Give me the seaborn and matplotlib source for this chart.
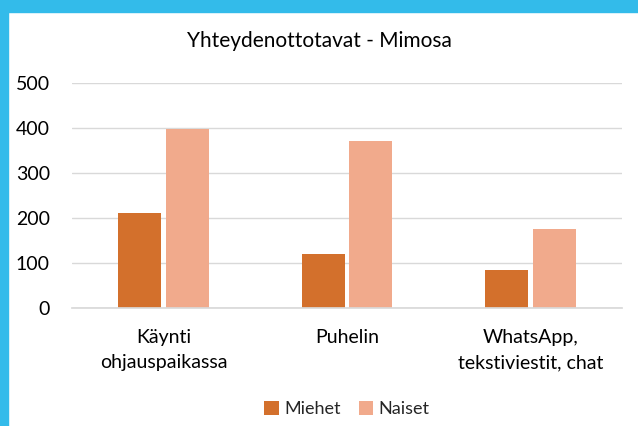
import matplotlib
matplotlib.use("Agg")
import matplotlib.pyplot as plt
import seaborn as sns
import pandas as pd
from matplotlib.patches import Rectangle

# ---------------------------------------------------------------------------
# Data
# ---------------------------------------------------------------------------
categories = ["Käynti\nohjauspaikassa", "Puhelin", "WhatsApp,\ntekstiviestit, chat"]
miehet = [211, 121, 84]
naiset = [398, 371, 176]
series = ["Miehet", "Naiset"]
colors = ["#D3702C", "#F1AA8C"]
yticks = [0, 100, 200, 300, 400, 500]

df = pd.DataFrame({
    "kategoria": categories * 2,
    "arvo": miehet + naiset,
    "sukupuoli": [series[0]] * 3 + [series[1]] * 3,
})

sns.set_theme(style="white")
plt.rcParams["font.family"] = ["Lato", "DejaVu Sans"]

fig = plt.figure(figsize=(6.38, 4.26), dpi=100)
ax = fig.add_axes([72 / 638, 1 - 308 / 426, 550 / 638, 225 / 426])

sns.barplot(data=df, x="kategoria", y="arvo", hue="sukupuoli",
            palette=colors, width=0.52, gap=0.1, saturation=1,
            linewidth=0, ax=ax, legend=True)

ax.set_ylim(0, 500)
ax.set_xlim(-0.5, 2.5)
ax.set_yticks(yticks)
ax.yaxis.grid(True, color="#D9D9D9", lw=1)
ax.set_axisbelow(True)
for s in ax.spines.values():
    s.set_visible(False)
ax.spines["bottom"].set_visible(True)
ax.spines["bottom"].set_color("#D9D9D9")
ax.set_xlabel("")
ax.set_ylabel("")
ax.tick_params(axis="y", labelsize=14, colors="#000000", pad=16, length=0)
ax.tick_params(axis="x", labelsize=14, colors="#000000", pad=15, length=0)
for lbl in ax.get_xticklabels():
    lbl.set_linespacing(1.6)

fig.text(0.5, 1 - 41 / 426, "Yhteydenottotavat - Mimosa", ha="center",
         va="center", fontsize=15, color="#000000")

ax.legend(loc="center", bbox_to_anchor=(0.5, -0.45), ncol=2, frameon=False,
          fontsize=13, handlelength=0.8, handleheight=0.8,
          handletextpad=0.3, columnspacing=1.0)

# blue frame (left + top)
fig.patches.append(Rectangle((0, 0), 8 / 638, 1, transform=fig.transFigure,
                             color="#33BBEA", zorder=10))
fig.patches.append(Rectangle((0, 1 - 12 / 426), 1, 12 / 426,
                             transform=fig.transFigure, color="#33BBEA",
                             zorder=10))

fig.savefig("out.png", dpi=100)
